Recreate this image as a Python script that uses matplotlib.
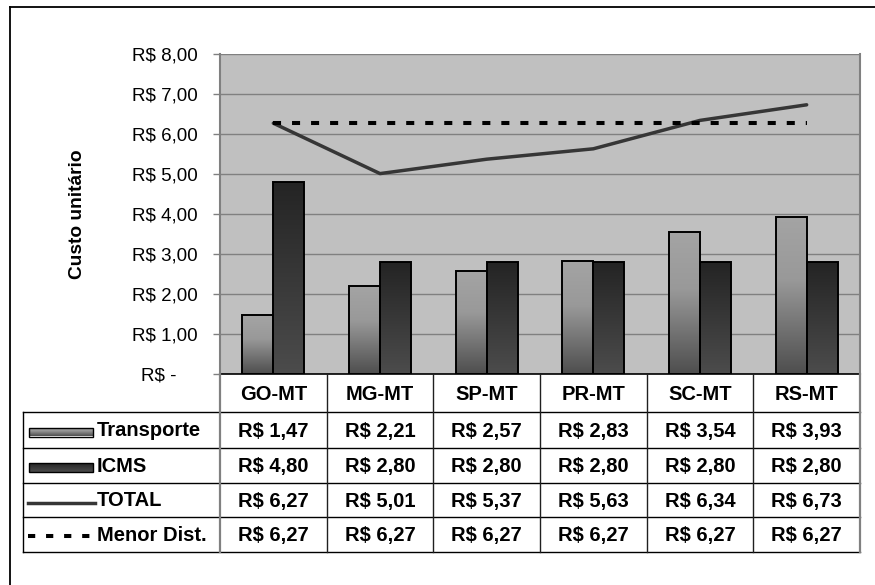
import matplotlib
matplotlib.use("Agg")
import matplotlib.pyplot as plt
import numpy as np
from matplotlib.patches import Rectangle
from matplotlib.colors import LinearSegmentedColormap

plt.rcParams['font.family'] = ['Liberation Sans', 'DejaVu Sans']
plt.rcParams['lines.scale_dashes'] = False

# ---- data ----
categories = ["GO-MT", "MG-MT", "SP-MT", "PR-MT", "SC-MT", "RS-MT"]
transporte = [1.47, 2.21, 2.57, 2.83, 3.54, 3.93]
icms = [4.80, 2.80, 2.80, 2.80, 2.80, 2.80]
total = [6.27, 5.01, 5.37, 5.63, 6.34, 6.73]
menor_dist = [6.27, 6.27, 6.27, 6.27, 6.27, 6.27]
series_names = ["Transporte", "ICMS", "TOTAL", "Menor Dist."]
yticks = [0, 1, 2, 3, 4, 5, 6, 7, 8]
ytick_labels = ["R$ -    ", "R$ 1,00", "R$ 2,00", "R$ 3,00", "R$ 4,00",
                "R$ 5,00", "R$ 6,00", "R$ 7,00", "R$ 8,00"]
ylabel = "Custo unitário"

def fmt(v):
    return ("R$ %.2f" % v).replace(".", ",")

W, H = 875, 585
fig = plt.figure(figsize=(W / 100, H / 100), dpi=100)
fig.patch.set_facecolor("white")

# gradients
cm_transp = LinearSegmentedColormap.from_list(
    "t", [(0.0, "#a4a4a4"), (0.4, "#999999"), (1.0, "#4e4e4e")])
cm_icms = LinearSegmentedColormap.from_list(
    "i", [(0.0, "#242424"), (1.0, "#4c4c4c")])
grad = np.linspace(0, 1, 256).reshape(-1, 1)

# ---- main axes ----
L, R, T, B = 220, 860, 54, 374
ax = fig.add_axes([L / W, (H - B) / H, (R - L) / W, (B - T) / H])
ax.set_facecolor("#c0c0c0")
ax.set_xlim(-0.5, len(categories) - 0.5)
ax.set_ylim(0, 8)
ax.set_axisbelow(True)
ax.yaxis.grid(True, color="#808080", linewidth=1.0)
ax.set_xticks([])
ax.set_yticks(yticks)
ax.set_yticklabels(ytick_labels, fontsize=13.5)
ax.tick_params(axis="y", direction="out", length=5, width=1, color="#808080", pad=11)
for s in ["left", "right"]:
    ax.spines[s].set_color("#808080")
    ax.spines[s].set_linewidth(1.5)
ax.spines["top"].set_visible(False)
ax.spines["bottom"].set_color("#000000")
ax.spines["bottom"].set_linewidth(1.2)

bw = 0.29
x = np.arange(len(categories))
for xi, t, ic in zip(x, transporte, icms):
    for x0, h, cmap in [(xi - bw, t, cm_transp), (xi, ic, cm_icms)]:
        rect = Rectangle((x0, 0), bw, h, facecolor="none", edgecolor="black",
                         linewidth=1.4, zorder=3)
        ax.add_patch(rect)
        im = ax.imshow(grad, cmap=cmap, aspect="auto", extent=(x0, x0 + bw, 0, h),
                       zorder=2, interpolation="bilinear")
        im.set_clip_path(rect)
ax.set_xlim(-0.5, len(categories) - 0.5)
ax.set_ylim(0, 8)

ax.plot(x, total, color="#363636", linewidth=2.5, zorder=4, solid_capstyle="round")
ax.plot(x, menor_dist, color="black", linewidth=2.9, zorder=4,
        dashes=(5.8, 7.9), dash_capstyle="butt")

fig.text(78 / W, 1 - 214 / H, ylabel, rotation=90, fontsize=13.8, fontweight="bold",
         ha="center", va="center")

# ---- overlay (pixel coords) for table and border ----
ov = fig.add_axes([0, 0, 1, 1], zorder=5)
ov.set_xlim(0, W)
ov.set_ylim(H, 0)
ov.axis("off")
ov.patch.set_alpha(0)

# outer border
ov.plot([10, 10], [7, H], color="black", linewidth=1.3)
ov.plot([10, W], [7, 7], color="black", linewidth=1.3)

row_lines = [412, 448, 483, 517, 552]
row_centers = [(row_lines[i] + row_lines[i + 1]) / 2 for i in range(4)]
n = len(categories)
cw = (R - L) / n
col_edges = [L + k * cw for k in range(n + 1)]
tab_left = 23

for y in row_lines:
    ov.plot([tab_left, R], [y, y], color="black", linewidth=1.0)
ov.plot([tab_left, tab_left], [row_lines[0], row_lines[-1]], color="black", linewidth=1.0)
for k, xe in enumerate(col_edges):
    if k in (0, n):
        ov.plot([xe, xe], [B, row_lines[-1]], color="#808080", linewidth=1.6)
    else:
        ov.plot([xe, xe], [B, row_lines[-1]], color="#202020", linewidth=1.0)

cat_y = (B + row_lines[0]) / 2
for k, c in enumerate(categories):
    cx = col_edges[k] + cw / 2
    ov.text(cx, cat_y + 1, c, ha="center", va="center", fontsize=14.5, fontweight="bold")

rows = [transporte, icms, total, menor_dist]
for r, vals in enumerate(rows):
    for k, v in enumerate(vals):
        cx = col_edges[k] + cw / 2
        ov.text(cx, row_centers[r] + 1, fmt(v), ha="center", va="center",
                fontsize=14.5, fontweight="bold")
    ov.text(97, row_centers[r] + 1, series_names[r], ha="left", va="center",
            fontsize=14.5, fontweight="bold")

# legend keys
for r, cmap in [(0, cm_transp), (1, cm_icms)]:
    yc = row_centers[r] + 2
    y0, y1 = yc - 4.5, yc + 4.5
    rect = Rectangle((29, y0), 64, 9, facecolor="none", edgecolor="black",
                     linewidth=1.0, zorder=3)
    ov.add_patch(rect)
    kim = ov.imshow(grad, cmap=cmap, aspect="auto", extent=(29, 93, y1, y0),
                    zorder=2, interpolation="bilinear")
    kim.set_clip_path(rect)
ov.plot([28, 95], [row_centers[2] + 3, row_centers[2] + 3], color="#363636", linewidth=2.5)
ov.plot([28, 95], [row_centers[3] + 1, row_centers[3] + 1], color="black", linewidth=2.9,
        dashes=(5.2, 7.8), dash_capstyle="butt")
ov.set_xlim(0, W)
ov.set_ylim(H, 0)

fig.savefig("out.png", dpi=100, facecolor="white")
